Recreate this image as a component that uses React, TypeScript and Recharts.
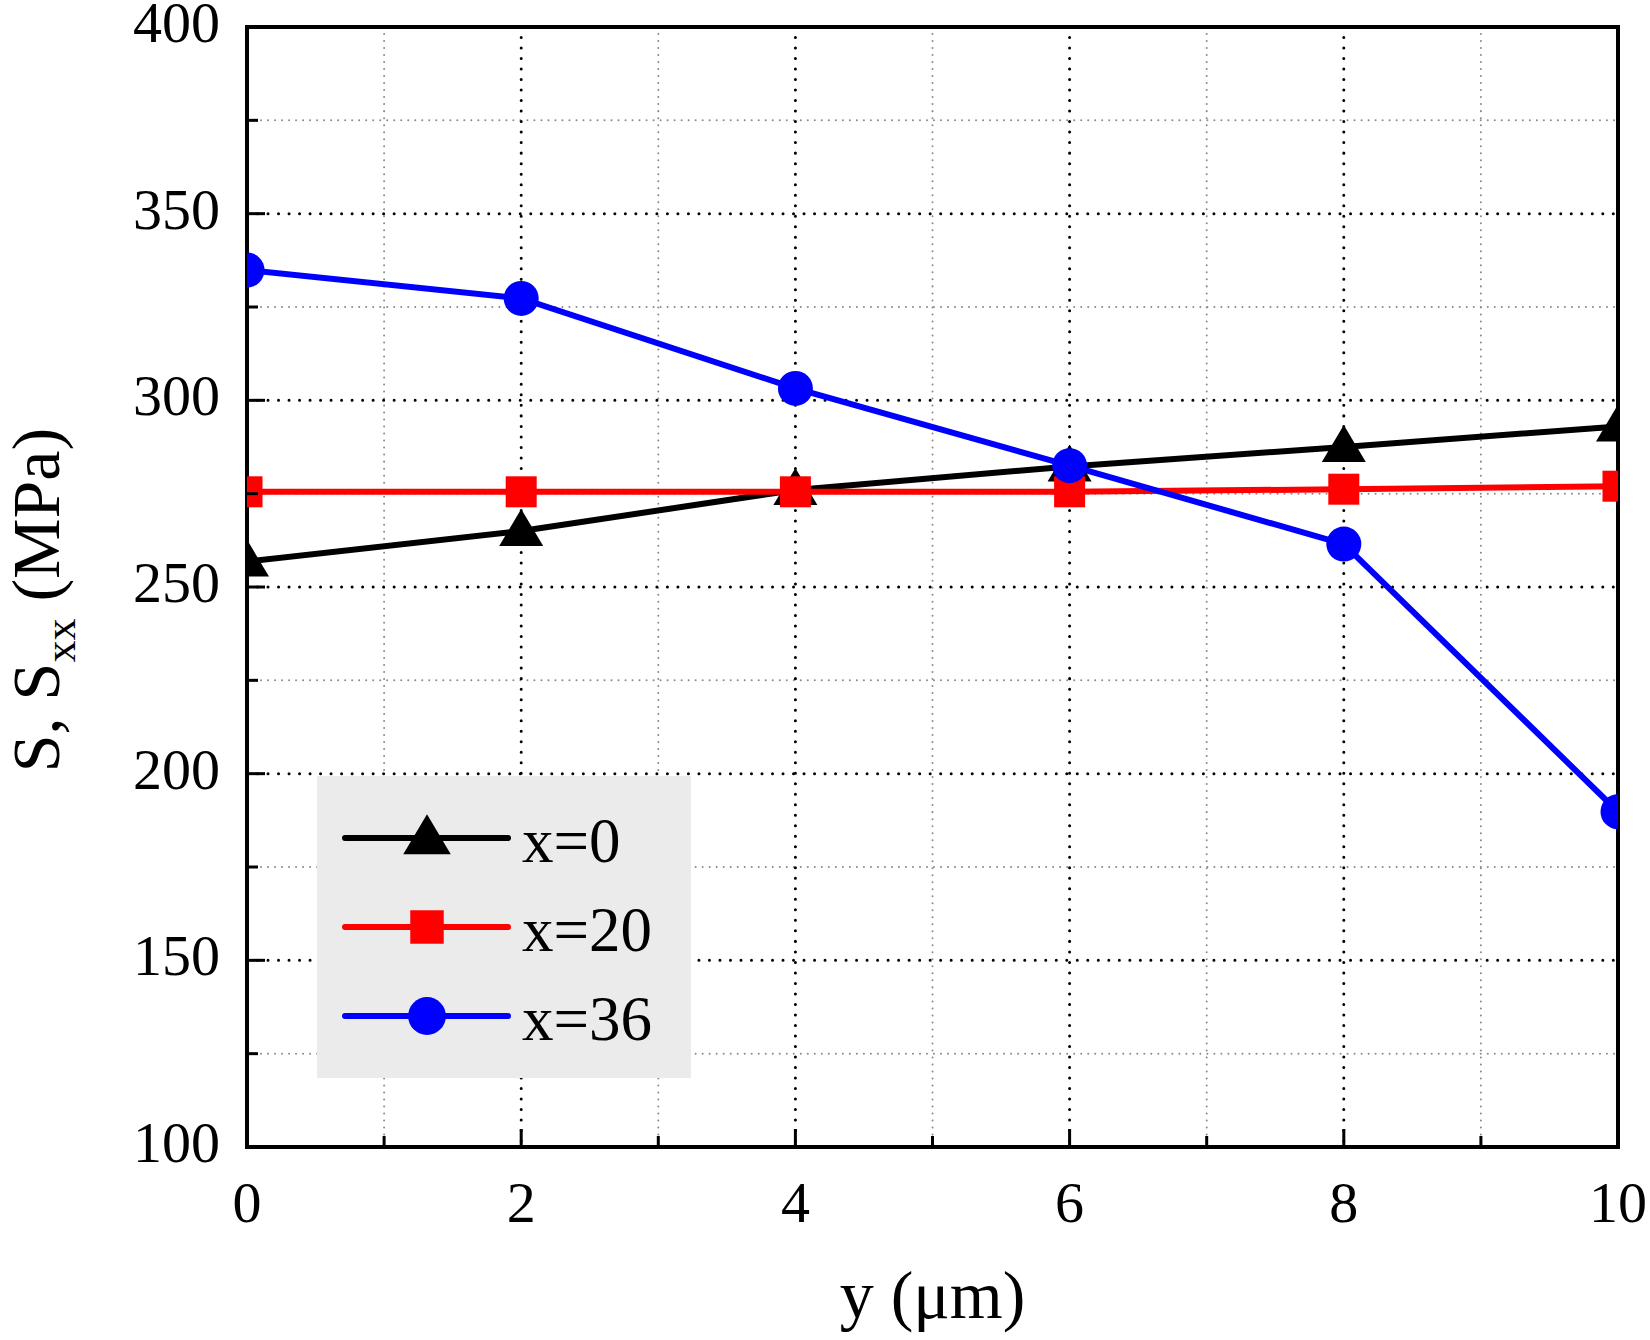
import React from 'react'
import { LineChart, Line, XAxis, YAxis, CartesianGrid, ReferenceArea } from 'recharts'

// y position (µm) along the path
const yPos = [0, 2, 4, 6, 8, 10]
// stress S, Sxx (MPa) for each x
const sX0 = [256.8, 265.0, 276.0, 282.3, 287.5, 293.0]
const sX20 = [275.5, 275.5, 275.5, 275.5, 276.2, 277.0]
const sX36 = [334.9, 327.3, 303.2, 282.5, 261.5, 189.8]

const seriesKeys = ['x0', 'x20', 'x36']
const seriesNames = ['x=0', 'x=20', 'x=36']
const seriesColors = ['#000000', '#ff0000', '#0000ff']
const seriesShapes = ['triangle', 'square', 'circle']

const xTicks = [0, 1, 2, 3, 4, 5, 6, 7, 8, 9, 10]
const xMajor = [0, 2, 4, 6, 8, 10]
const yTicks = [100, 125, 150, 175, 200, 225, 250, 275, 300, 325, 350, 375, 400]
const yMajor = [100, 150, 200, 250, 300, 350, 400]
const xGridMajor = [2, 4, 6, 8]
const xGridMinor = [1, 3, 5, 7, 9]
const yGridMajor = [150, 200, 250, 300, 350]
const yGridMinor = [125, 175, 225, 275, 325, 375]

const data = yPos.map((y, i) => ({ y, x0: sX0[i], x20: sX20[i], x36: sX36[i] }))

const FONT = '"Liberation Serif", "Times New Roman", serif'

function Marker({ shape, cx, cy, color, k = 1 }: any) {
  if (shape === 'triangle') {
    return (
      <polygon
        points={`${cx},${cy - 22 * k} ${cx + 22 * k},${cy + 15 * k} ${cx - 22 * k},${cy + 15 * k}`}
        fill={color}
      />
    )
  }
  if (shape === 'square') {
    return <rect x={cx - 15.5 * k} y={cy - 15.5 * k} width={31 * k} height={31 * k} fill={color} />
  }
  return <circle cx={cx} cy={cy} r={17.5 * k} fill={color} />
}

const XTick = (props: any) => {
  const { x, y, payload } = props
  const major = xMajor.includes(payload.value)
  return (
    <g>
      <line x1={x} x2={x} y1={y} y2={y - (major ? 18 : 11)} stroke="#000" strokeWidth={3} />
      {major && (
        <text x={x} y={y + 75} textAnchor="middle" fontSize={58} fontFamily={FONT} fill="#000">
          {payload.value}
        </text>
      )}
    </g>
  )
}

const YTick = (props: any) => {
  const { x, y, payload } = props
  const major = yMajor.includes(payload.value)
  return (
    <g>
      <line x1={x} x2={x + (major ? 18 : 11)} y1={y} y2={y} stroke="#000" strokeWidth={3} />
      {major && (
        <text x={x - 27} y={y + 15} textAnchor="end" fontSize={58} fontFamily={FONT} fill="#000">
          {payload.value}
        </text>
      )}
    </g>
  )
}

function ChartLegend() {
  return (
    <svg width={374} height={302} style={{ position: 'absolute', left: 317, top: 776 }}>
      <rect x={0} y={0} width={374} height={302} fill="#ebebeb" />
      {seriesNames.map((name, i) => {
        const cy = 62 + i * 89
        return (
          <g key={name}>
            <line x1={28} x2={191} y1={cy} y2={cy} stroke={seriesColors[i]} strokeWidth={6} strokeLinecap="round" />
            <Marker shape={seriesShapes[i]} cx={110} cy={cy} color={seriesColors[i]} k={1.08} />
            <text x={205} y={cy + 24} fontSize={63} fontFamily={FONT} fill="#000">
              {name}
            </text>
          </g>
        )
      })}
    </svg>
  )
}

export default function App() {
  return (
    <div style={{ position: 'absolute', left: 0, top: 0, width: 1650, height: 1340, background: '#fff' }}>
      <LineChart width={1650} height={1340} data={data} margin={{ top: 27, right: 32, bottom: 163, left: 217 }}>
        <CartesianGrid
          horizontalValues={yGridMinor}
          verticalValues={xGridMinor}
          stroke="#8a8a8a"
          strokeWidth={2}
          strokeDasharray="0.01 7"
          strokeLinecap="round"
        />
        <CartesianGrid
          horizontalValues={yGridMajor}
          verticalValues={xGridMajor}
          stroke="#000"
          strokeWidth={3}
          strokeDasharray="0.01 10.5"
          strokeLinecap="round"
        />
        <XAxis
          dataKey="y"
          type="number"
          domain={[0, 10]}
          ticks={xTicks}
          interval={0}
          allowDataOverflow
          height={30}
          tickSize={0}
          tickMargin={0}
          tickLine={false}
          axisLine={false}
          tick={<XTick />}
          label={{
            content: ({ viewBox }: any) => (
              <text
                x={viewBox.x + viewBox.width / 2}
                y={viewBox.y + 171}
                textAnchor="middle"
                fontSize={68}
                fontFamily={FONT}
                fill="#000"
              >
                y (μm)
              </text>
            ),
          }}
        />
        <YAxis
          type="number"
          domain={[100, 400]}
          ticks={yTicks}
          interval={0}
          allowDataOverflow
          width={30}
          tickSize={0}
          tickMargin={0}
          tickLine={false}
          axisLine={false}
          tick={<YTick />}
          label={{
            content: ({ viewBox }: any) => {
              const cx = viewBox.x + viewBox.width - 188
              const cy = viewBox.y + viewBox.height / 2 + 13
              return (
                <text
                  x={cx}
                  y={cy}
                  transform={`rotate(-90 ${cx} ${cy})`}
                  textAnchor="middle"
                  fontSize={68}
                  fontFamily={FONT}
                  fill="#000"
                >
                  S, S
                  <tspan fontSize={44} dy={16}>xx</tspan>
                  <tspan dy={-16}> (MPa)</tspan>
                </text>
              )
            },
          }}
        />
        <ReferenceArea x1={0} x2={10} y1={100} y2={400} fill="none" stroke="#000" strokeWidth={4} ifOverflow="visible" />
        {seriesKeys.map((key, i) => (
          <Line
            key={key}
            dataKey={key}
            name={seriesNames[i]}
            stroke={seriesColors[i]}
            strokeWidth={6}
            isAnimationActive={false}
            activeDot={false}
            dot={(p: any) => (
              <Marker key={`${key}-${p.index}`} shape={seriesShapes[i]} cx={p.cx} cy={p.cy} color={seriesColors[i]} />
            )}
          />
        ))}
      </LineChart>
      <ChartLegend />
    </div>
  )
}
